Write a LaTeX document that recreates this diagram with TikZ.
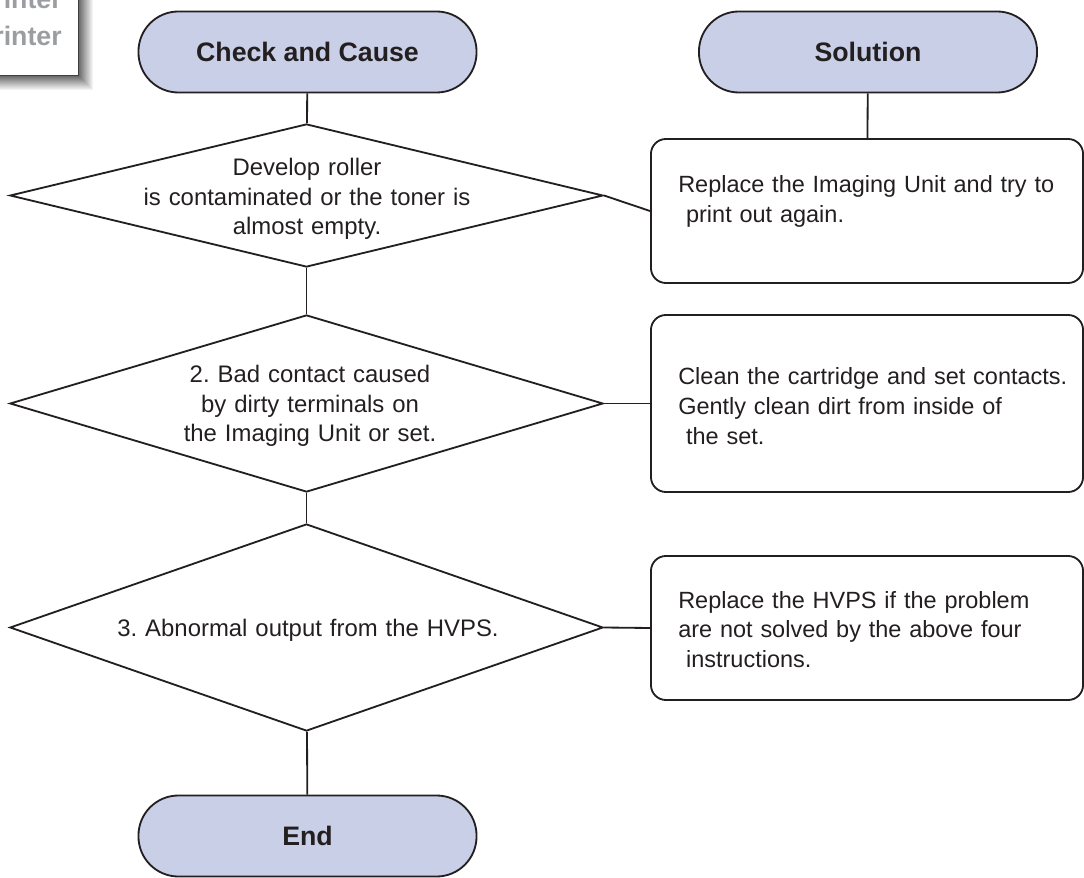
\documentclass[tikz,border=0pt]{standalone}
\usepackage{fontspec}
\setmainfont{Liberation Sans}
\usepackage{tikz}
\usetikzlibrary{shapes}
\usepackage{xcolor}
\definecolor{linec}{RGB}{35,31,32}
\definecolor{termfill}{RGB}{201,207,230}
\definecolor{tabgray}{RGB}{155,157,160}
\frenchspacing

\tikzset{
  term/.style={draw=linec, line width=1.3pt, fill=termfill, rounded corners=1cm, minimum width=8.45cm, minimum height=2.025cm, text=linec, font=\bfseries\fontsize{19}{22}\selectfont},
  dia/.style={draw=linec, line width=1.3pt, diamond, minimum width=14.825cm, inner sep=0pt},
  fixbox/.style={draw=linec, line width=1.3pt, rounded corners=0.375cm, minimum width=10.8cm, inner sep=0pt},
  txt/.style={text=linec, inner sep=0pt, font=\fontsize{17}{20.8}\selectfont},
  fixtxt/.style={txt, font=\fontsize{16.7}{21}\selectfont, text width=10.2cm, align=left, anchor=base west},
  link/.style={draw=linec, line width=1.3pt},
  tab/.style={text=tabgray, inner sep=0pt, font=\bfseries\fontsize{19}{22}\selectfont}
}

\begin{document}
\begin{tikzpicture}[x=0.025cm, y=-0.025cm]
            \useasboundingbox (0,0) rectangle (1084,878);
            \clip (0,0) rectangle (1084,878);

            % Corner tab with shadow
            \foreach \i in {15,14,...,1} {
                \pgfmathtruncatemacro{\shd}{65-4*\i}
                \fill[black!\shd] (-20,-20) rectangle (78+\i,75+\i);
            }
            \draw[fill=white, draw=black!75, line width=0.6pt] (-20,-20) rectangle (78,75);
            \node[tab, anchor=base east] (tab1) at (62,9) {rinter};
            \node[tab, anchor=base east] (tab2) at (62,46) {rinter};

            % Headers
            \node[term] (cause) at (307.5,52) {Check and Cause};
            \node[term] (sol) at (868,52) {Solution};

            % Checks
            \node[dia, minimum height=3.575cm] (chk1) at (306.5,195.5) {};
            \node[dia, minimum height=4.425cm] (chk2) at (306.5,403.5) {};
            \node[dia, minimum height=5.175cm] (chk3) at (306.5,627.5) {};

            \node[txt, text width=9cm, align=center, anchor=base] (chk1txt) at (307,176) {Develop roller\\is contaminated or the toner is\\almost empty.};
            \node[txt, text width=9cm, align=center, anchor=base] (chk2txt) at (310,383) {2. Bad contact caused\\by dirty terminals on\\the Imaging Unit or set.};
            \node[txt, text width=10cm, align=center, anchor=base] (chk3txt) at (308,636) {3. Abnormal output from the HVPS.};

            % Solutions
            \node[fixbox, minimum height=3.6cm] (fix1) at (867,211) {};
            \node[fixbox, minimum height=4.425cm] (fix2) at (867,403.5) {};
            \node[fixbox, minimum height=3.6cm] (fix3) at (867,628) {};

            \node[fixtxt] (fix1txt) at (678,193) {Replace the Imaging Unit and try to\\\ print out again.};
            \node[fixtxt] (fix2txt) at (678,385) {Clean the cartridge and set contacts.\\Gently clean dirt from inside of\\\ the set.};
            \node[fixtxt] (fix3txt) at (678,608) {Replace the HVPS if the problem\\are not solved by the above four\\\ instructions.};

            % End
            \node[term] (end) at (307.5,836) {End};

            % Lines
            \draw[link] (cause) -- (chk1);
            \draw[link] (chk1) -- (chk2);
            \draw[link] (chk2) -- (chk3);
            \draw[link] (chk3) -- (end);
            \draw[link] (sol) -- (fix1);
            \draw[link] (chk1.east) -- (fix1.west);
            \draw[link] (chk2.east) -- (fix2.west);
            \draw[link] (chk3.east) -- (fix3.west);
        \end{tikzpicture}
\end{document}
